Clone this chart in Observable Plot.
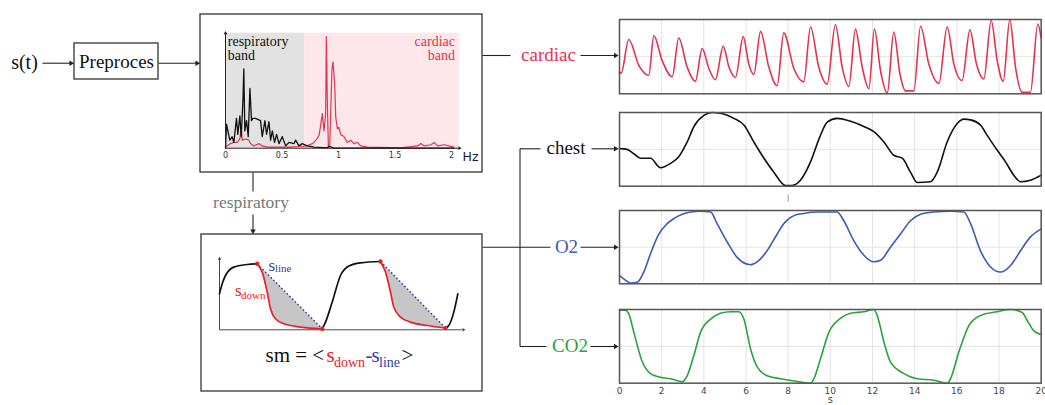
<!DOCTYPE html>
<html>
<head>
<meta charset="utf-8">
<script src="https://cdn.jsdelivr.net/npm/d3@7"></script>
<script src="https://cdn.jsdelivr.net/npm/@observablehq/plot@0.6"></script>
<style>
  body { margin: 0; background: #fff; }
  #wrap { position: relative; width: 1045px; height: 405px; overflow: hidden; background: #fff; }
  #wrap > svg { position: absolute; }
</style>
</head>
<body>
<div id="wrap"></div>
<script>
// ================= DATA =================
const timeTicks = [0, 2, 4, 6, 8, 10, 12, 14, 16, 18, 20];

const cardiacT = [0,0.08,0.44,0.92,1.39,1.63,2.02,2.50,2.81,3.21,3.60,3.92,4.24,4.55,4.92,5.19,5.50,5.87,6.13,6.37,6.69,7.08,7.48,7.79,8.27,8.74,9.06,9.45,9.85,10.24,10.56,10.88,11.19,11.51,11.83,12.09,12.38,12.70,13.01,13.30,13.57,13.96,14.28,14.67,15.15,15.54,15.86,16.25,16.62,16.93,17.28,17.63,17.91,18.20,18.51,18.78,19.10,19.49,19.84,20];
const cardiacV = [0.29,0.28,0.73,0.38,0.25,0.78,0.45,0.23,0.75,0.36,0.17,0.61,0.34,0.19,0.64,0.36,0.22,0.77,0.40,0.26,0.84,0.36,0.11,0.82,0.34,0.16,0.90,0.36,0.13,0.93,0.36,0.10,0.87,0.36,0.07,0.87,0.31,0.01,0.83,0.27,0.04,0.04,0.91,0.40,0.14,0.90,0.40,0.18,0.86,0.40,0.20,0.99,0.45,0.17,1.0,0.36,0.02,0.02,0.94,0.75];

const chestT = [0,0.36,0.68,1.00,1.47,1.94,2.42,2.81,3.21,3.53,4.00,4.40,4.79,5.42,5.90,6.37,6.85,7.32,7.87,8.19,8.58,9.06,9.53,9.85,10.32,10.96,11.59,12.06,12.54,13.01,13.41,13.80,14.12,14.75,15.07,15.54,16.02,16.33,16.65,17.12,17.44,17.91,18.31,18.70,19.02,19.49,20];
const chestV = [0.51,0.50,0.44,0.38,0.38,0.25,0.31,0.40,0.60,0.81,0.96,1.00,0.99,0.92,0.83,0.60,0.38,0.19,0.01,0.01,0.08,0.33,0.69,0.87,0.92,0.88,0.81,0.74,0.60,0.42,0.38,0.19,0.05,0.06,0.19,0.60,0.85,0.91,0.90,0.83,0.69,0.49,0.33,0.15,0.06,0.08,0.15];

const o2T = [0,0.28,0.52,0.84,1.15,1.47,1.87,2.26,2.58,2.97,3.37,3.84,4.32,4.63,5.11,5.58,6.21,6.53,7.00,7.48,7.79,8.27,8.74,9.38,10.32,10.64,11.11,11.59,12.06,12.38,12.85,13.33,13.80,14.28,14.91,15.70,16.33,16.65,17.12,17.60,18.07,18.55,19.02,19.49,20];
const o2V = [0.11,0.05,0.01,0.02,0.16,0.41,0.68,0.82,0.89,0.95,0.98,0.99,0.98,0.82,0.57,0.36,0.26,0.30,0.45,0.68,0.82,0.93,0.96,0.98,0.98,0.86,0.59,0.39,0.30,0.32,0.50,0.68,0.86,0.95,0.98,0.99,0.98,0.82,0.45,0.23,0.16,0.25,0.45,0.64,0.75];

const co2T = [0,0.28,0.44,0.68,1.08,1.47,1.94,2.42,2.97,3.21,3.53,3.84,4.32,4.79,5.26,5.66,5.90,6.21,6.53,7.00,7.64,8.27,9.06,9.22,9.53,9.93,10.48,10.96,11.59,12.06,12.22,12.54,12.85,13.49,14.12,14.91,15.54,15.70,16.09,16.57,17.12,17.91,18.55,19.10,19.34,19.65,20];
const co2V = [0.99,0.99,0.94,0.69,0.29,0.13,0.08,0.06,0.02,0.10,0.38,0.69,0.87,0.95,0.97,0.97,0.87,0.47,0.22,0.10,0.06,0.03,0.00,0.06,0.33,0.69,0.88,0.95,0.97,1.00,0.92,0.56,0.29,0.13,0.06,0.04,0.00,0.06,0.42,0.78,0.92,0.97,1.00,0.96,0.85,0.71,0.66];

const signalNames = ["cardiac", "chest", "O2", "CO2"];
const signalColors = ["#e3334f", "#111111", "#3b5bb7", "#2aa23a"];

// spectrum (Hz, relative amplitude)
const freqTicks = [0, 0.5, 1, 1.5, 2];
const freqTickLabels = ["0", "0.5", "1", "1.5", "2"];
const bandNames = ["respiratory\nband", "cardiac\nband"];
const bandFrom = [0, 0.7];
const bandTo = [0.7, 2.07];
const bandFills = ["#e2e2e2", "#fde7eb"];
const bandTextColors = ["#111111", "#e3334f"];

const specBlackHz = [0,0.009,0.021,0.038,0.059,0.074,0.097,0.109,0.127,0.139,0.154,0.162,0.171,0.186,0.201,0.216,0.230,0.242,0.266,0.310,0.325,0.349,0.363,0.384,0.399,0.414,0.434,0.452,0.473,0.502,0.532,0.561,0.606,0.620,0.650,0.679,0.724,0.783,0.901,0.916,0.960,2.02];
const specBlackAmp = [0,0.21,0.15,0.07,0.10,0.05,0.26,0.12,0.28,0.10,0.41,0.69,0.15,0.24,0.10,0.52,0.24,0.26,0.26,0.24,0.10,0.24,0.12,0.23,0.07,0.15,0.05,0.12,0.04,0.10,0.02,0.05,0.04,0.07,0.02,0.04,0.02,0.01,0.003,0.015,0,0];
const specRedHz = [0,0.044,0.074,0.103,0.127,0.139,0.148,0.177,0.207,0.222,0.251,0.295,0.325,0.369,0.547,0.665,0.724,0.768,0.783,0.807,0.827,0.842,0.857,0.871,0.886,0.892,0.901,0.910,0.922,0.931,0.942,0.951,0.966,0.975,0.990,1.004,1.019,1.034,1.049,1.078,1.108,1.137,1.167,1.196,1.256,1.551,1.699,1.728,1.758,1.817,1.846,1.876,1.935,2.02];
const specRedAmp = [0.01,0.04,0.05,0.05,0.08,0.17,0.07,0.08,0.07,0.04,0.02,0.04,0.02,0.01,0.01,0.015,0.02,0.04,0.05,0.08,0.11,0.20,0.30,0.15,0.30,0.97,0.39,0.01,0.02,0.33,0.69,0.75,0.56,0.27,0.17,0.18,0.12,0.11,0.10,0.05,0.07,0.04,0.05,0.02,0.01,0.003,0.02,0.04,0.02,0.03,0.05,0.02,0.03,0.01];

// respiratory schematic (arbitrary units)
const schemBlackU = [0,2.7,6,14.3,27.7,37.7, 102.7,106,112.7,121,129.3,141,161, 226,229.3,234.3,238.3];
const schemBlackW = [35,45,53.3,61.7,64.3,65, 0,6.7,26.7,53.3,62.7,66,67.3, 0.7,3.3,16.7,35];
const schemBlackSeg = [1,1,1,1,1,1, 2,2,2,2,2,2,2, 3,3,3,3];
const schemRedU = [37.7,42.7,47.7,51,56,64.3,81,102.7, 161,166,171,174.3,181,191,207.7,226];
const schemRedW = [65,56.7,36.7,20,10,5,1.7,0, 67.3,56.7,36.7,21.7,11.7,6.7,3.3,0.7];
const schemRedSeg = [1,1,1,1,1,1,1,1, 2,2,2,2,2,2,2,2];

// ================= LAYOUT =================
const wrap = document.getElementById("wrap");
function place(el, left, top) {
  el.style.position = "absolute";
  el.style.left = left + "px";
  el.style.top = top + "px";
  el.style.maxWidth = "none";
  wrap.appendChild(el);
}
const zip = (xs, ys, extra) => xs.map((x, i) => ({x, y: ys[i], g: extra ? extra[i] : 0}));
const transparent = {background: "transparent", overflow: "visible"};

// ---------- spectrum panel ----------
const bands = bandNames.map((name, i) => ({name, x1: bandFrom[i], x2: bandTo[i], fill: bandFills[i], tc: bandTextColors[i]}));
const spectrum = Plot.plot({
  width: 282, height: 158,
  marginLeft: 25, marginRight: 23, marginTop: 18.7, marginBottom: 24.3,
  x: {domain: [0, 2.07], axis: null},
  y: {domain: [0, 1], axis: null},
  color: {type: "identity"},
  style: transparent,
  marks: [
    Plot.rect(bands, {x1: "x1", x2: "x2", y1: () => 0, y2: () => 1, fill: "fill"}),
    Plot.line(zip(specRedHz, specRedAmp), {x: "x", y: "y", stroke: "#e3334f", strokeWidth: 1.2}),
    Plot.line(zip(specBlackHz, specBlackAmp), {x: "x", y: "y", stroke: "#111", strokeWidth: 1.3}),
    Plot.ruleY([0], {stroke: "#222", strokeWidth: 1}),
    Plot.ruleX([0], {stroke: "#222", strokeWidth: 1}),
    Plot.dot([{x: 2.07, y: 0}], {x: "x", y: "y", symbol: "triangle2", rotate: 90, r: 1.8, fill: "#222", stroke: "none"}),
    Plot.dot([{x: 0, y: 1}], {x: "x", y: "y", symbol: "triangle2", rotate: 0, r: 1.8, fill: "#222", stroke: "none"}),
    Plot.axisX(freqTicks, {tickSize: 0, tickPadding: 4, fontSize: 8, fontFamily: "DejaVu Sans", fill: "#333",
      tickFormat: (d, i) => freqTickLabels[i], label: null}),
    Plot.text(["Hz"], {x: 2, y: 0, dx: 19, dy: 9, fontSize: 12.5, fontFamily: "DejaVu Sans", fill: "#222"}),
    Plot.text([bands[0]], {x: 0.02, y: 0.865, text: "name", textAnchor: "start", lineAnchor: "middle", lineHeight: 1,
      fontSize: 14, fontFamily: "Liberation Serif", fill: "tc"}),
    Plot.text([bands[1]], {x: 2.03, y: 0.865, text: "name", textAnchor: "end", lineAnchor: "middle", lineHeight: 1,
      fontSize: 14, fontFamily: "Liberation Serif", fill: "tc"})
  ]
});
place(spectrum, 200, 14);

// ---------- respiratory schematic ----------
const redPts = zip(schemRedU, schemRedW, schemRedSeg);
const blackPts = zip(schemBlackU, schemBlackW, schemBlackSeg);
const redGroups = d3.groups(redPts, d => d.g).map(([, v]) => v);
const chords = redGroups.map(v => ({x1: v[0].x, y1: v[0].y, x2: v[v.length - 1].x, y2: v[v.length - 1].y}));
const endDots = redGroups.flatMap(v => [v[0], v[v.length - 1]]);
const schem = Plot.plot({
  width: 281, height: 157,
  marginLeft: 18, marginRight: 13, marginTop: 24.3, marginBottom: 62.7,
  x: {domain: [0, 250], axis: null},
  y: {domain: [0, 70], axis: null},
  style: transparent,
  marks: [
    ...redGroups.map(v => Plot.line(v, {x: "x", y: "y", fill: "#c6c6c6", stroke: "none", curve: "monotone-x"})),
    Plot.ruleX([0], {y1: -1, y2: 70, stroke: "#333", strokeWidth: 0.9}),
    Plot.ruleY([-1], {x1: 0, x2: 243, stroke: "#333", strokeWidth: 0.9}),
    Plot.dot([{x: 0, y: 70}], {x: "x", y: "y", symbol: "triangle2", r: 1.6, fill: "#333", stroke: "none"}),
    Plot.dot([{x: 244, y: -1}], {x: "x", y: "y", symbol: "triangle2", rotate: 90, r: 1.6, fill: "#333", stroke: "none"}),
    Plot.link(chords, {x1: "x1", y1: "y1", x2: "x2", y2: "y2", stroke: "#3340a8", strokeWidth: 1.5, strokeDasharray: "1.6,2.2"}),
    Plot.line(blackPts, {x: "x", y: "y", z: "g", stroke: "#111", strokeWidth: 1.7, curve: "monotone-x"}),
    Plot.line(redPts, {x: "x", y: "y", z: "g", stroke: "#e8202a", strokeWidth: 1.7, curve: "monotone-x"}),
    Plot.dot(endDots, {x: "x", y: "y", r: 2.2, fill: "#e8202a", stroke: "none"}),
    Plot.text(["s"], {x: 49, y: 58.3, textAnchor: "start", lineAnchor: "bottom", fontSize: 17, fontFamily: "Liberation Serif", fill: "#3340a8"}),
    Plot.text(["line"], {x: 55.5, y: 56.4, textAnchor: "start", lineAnchor: "bottom", fontSize: 11, fontFamily: "Liberation Serif", fill: "#3340a8"}),
    Plot.text(["s"], {x: 15.5, y: 33, textAnchor: "start", lineAnchor: "bottom", fontSize: 17, fontFamily: "Liberation Serif", fill: "#e8202a"}),
    Plot.text(["down"], {x: 21.5, y: 30.3, textAnchor: "start", lineAnchor: "bottom", fontSize: 11, fontFamily: "Liberation Serif", fill: "#e8202a"})
  ]
});
place(schem, 201, 234);

// ---------- signal panels ----------
const signalT = [cardiacT, chestT, o2T, co2T];
const signalV = [cardiacV, chestV, o2V, co2V];
const frameLeft = 619, frameRight = 1040.7;
const frameTops = [19, 112.3, 210, 309];
const frameBottoms = [93.3, 186, 283.3, 382.7];
signalNames.forEach((name, i) => {
  const mt = 4, mb = i === 3 ? 30 : 4, ml = 10, mr = 10;
  const last = i === 3;
  const p = Plot.plot({
    width: ml + (frameRight - frameLeft) + mr,
    height: mt + (frameBottoms[i] - frameTops[i]) + mb,
    marginLeft: ml, marginRight: mr, marginTop: mt, marginBottom: mb,
    x: {domain: [0, 20], axis: null},
    y: {domain: [0, 1], axis: null},
    style: transparent,
    marks: [
      Plot.ruleX(timeTicks, {stroke: "#e3e3e3", strokeWidth: 1}),
      Plot.ruleY([0.5], {stroke: "#e3e3e3", strokeWidth: 1}),
      Plot.line(zip(signalT[i], signalV[i]), {x: "x", y: "y", stroke: signalColors[i], strokeWidth: 1.6, curve: "monotone-x"}),
      Plot.frame({stroke: "#555", strokeWidth: 1.5}),
      last ? Plot.axisX(timeTicks, {tickSize: 0, tickPadding: 4, fontSize: 9, fontFamily: "DejaVu Sans", fill: "#444", label: null}) : null,
      last ? Plot.text(["s"], {x: 10, y: 0, dy: 16.5, fontSize: 10, fontFamily: "DejaVu Sans", fill: "#444"}) : null,
      i === 1 ? Plot.ruleX([8], {y1: -0.12, y2: -0.22, stroke: "#999", strokeWidth: 1}) : null
    ]
  });
  place(p, frameLeft - ml, frameTops[i] - mt);
});

// ---------- block diagram overlay (pixel layout) ----------
const boxes = [
  {x1: 74, y1: 43, x2: 158, y2: 79},
  {x1: 200, y1: 14, x2: 482, y2: 172},
  {x1: 201, y1: 234, x2: 482, y2: 391}
];
const connectors = [
  {x1: 42, y1: 62.7, x2: 71, y2: 62.7},
  {x1: 158, y1: 62.7, x2: 197, y2: 62.7},
  {x1: 482, y1: 55, x2: 510, y2: 55},
  {x1: 580, y1: 55, x2: 615, y2: 55},
  {x1: 252.5, y1: 172, x2: 252.5, y2: 191},
  {x1: 252.5, y1: 214, x2: 252.5, y2: 231},
  {x1: 482, y1: 246.7, x2: 550, y2: 246.7},
  {x1: 580, y1: 246.7, x2: 615, y2: 246.7},
  {x1: 519.5, y1: 148.3, x2: 519.5, y2: 346},
  {x1: 519.5, y1: 148.3, x2: 540, y2: 148.3},
  {x1: 591, y1: 148.3, x2: 615, y2: 148.3},
  {x1: 519.5, y1: 346, x2: 546, y2: 346},
  {x1: 590, y1: 346, x2: 615, y2: 346}
];
const heads = [
  {x: 70.5, y: 62.7, rot: 90},
  {x: 196.5, y: 62.7, rot: 90},
  {x: 615, y: 55, rot: 90},
  {x: 252.5, y: 230.5, rot: 180},
  {x: 615, y: 246.7, rot: 90},
  {x: 615, y: 148.3, rot: 90},
  {x: 615, y: 346, rot: 90}
];
const labels = [
  {x: 24, y: 62, text: "s(t)", fill: "#111", size: 20},
  {x: 116, y: 61.5, text: "Preproces", fill: "#111", size: 19},
  {x: 548, y: 54.5, text: signalNames[0], fill: signalColors[0], size: 19},
  {x: 565.5, y: 147.5, text: signalNames[1], fill: signalColors[1], size: 19},
  {x: 566, y: 246, text: signalNames[2], fill: signalColors[2], size: 19},
  {x: 569.5, y: 345.5, text: signalNames[3], fill: signalColors[3], size: 19},
  {x: 250.5, y: 202, text: "respiratory", fill: "#777", size: 17.5}
];
const formula = [
  {x: 265, y: 361.7, text: "sm = <", fill: "#111", size: 21},
  {x: 326, y: 361.7, text: "s", fill: "#e8202a", size: 21},
  {x: 333.5, y: 366.5, text: "down", fill: "#e8202a", size: 14},
  {x: 365, y: 361.7, text: "-", fill: "#3340a8", size: 21},
  {x: 371, y: 361.7, text: "s", fill: "#3340a8", size: 21},
  {x: 378.5, y: 366.5, text: "line", fill: "#3340a8", size: 14},
  {x: 401, y: 361.7, text: ">", fill: "#111", size: 21}
];
const overlay = Plot.plot({
  width: 1045, height: 405, margin: 0,
  x: {domain: [0, 1045], range: [0, 1045], axis: null},
  y: {domain: [0, 405], range: [0, 405], axis: null},
  color: {type: "identity"},
  style: {background: "transparent"},
  marks: [
    Plot.rect(boxes, {x1: "x1", y1: "y1", x2: "x2", y2: "y2", fill: "none", stroke: "#333", strokeWidth: 1.3}),
    Plot.link(connectors, {x1: "x1", y1: "y1", x2: "x2", y2: "y2", stroke: "#222", strokeWidth: 1.1}),
    Plot.dot(heads, {x: "x", y: "y", rotate: "rot", symbol: "triangle2", r: 2.6, fill: "#222", stroke: "none"}),
    Plot.text(labels, {x: "x", y: "y", text: "text", fill: "fill", fontSize: "size", fontFamily: "Liberation Serif", lineAnchor: "middle"}),
    Plot.text(formula, {x: "x", y: "y", text: "text", fill: "fill", fontSize: "size", fontFamily: "Liberation Serif", textAnchor: "start", lineAnchor: "bottom"})
  ]
});
place(overlay, 0, 0);
</script>
</body>
</html>
